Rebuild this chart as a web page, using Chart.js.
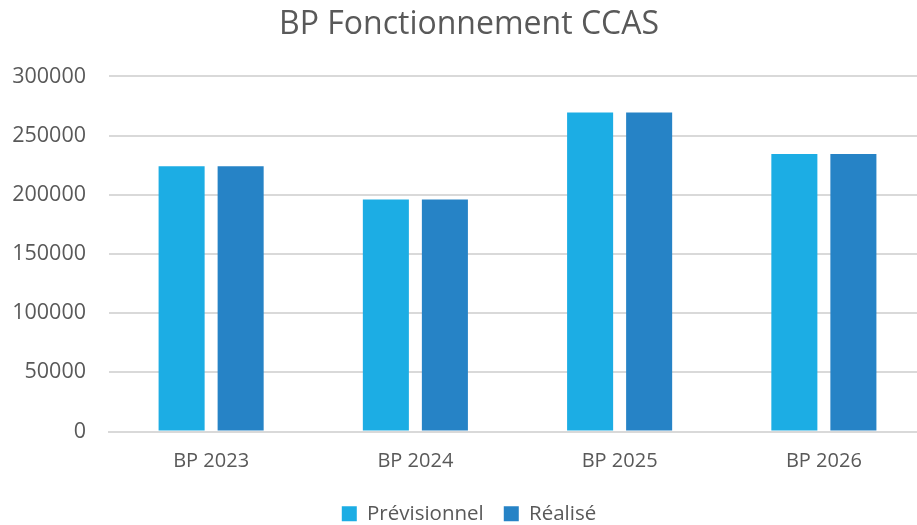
<!DOCTYPE html>
<html>
<head>
<meta charset="utf-8">
<script src="https://cdn.jsdelivr.net/npm/chart.js@4/dist/chart.umd.min.js"></script>
<style>
  html, body { margin: 0; padding: 0; background: #ffffff; overflow: hidden; }
  #wrap { position: relative; width: 946px; height: 534px; }
</style>
</head>
<body>
<div id="wrap"><canvas id="c"></canvas></div>
<script>
const categories = ["BP 2023", "BP 2024", "BP 2025", "BP 2026"];
const previsionnel = [224000, 196000, 269500, 234500];
const realise = [224000, 196000, 269500, 234500];
const seriesNames = ["Prévisionnel", "Réalisé"];
const chartTitle = "BP Fonctionnement CCAS";

const FONT = "'Open Sans', 'Liberation Sans', sans-serif";
const TEXT = "#595959";

new Chart(document.getElementById("c"), {
  type: "bar",
  data: {
    labels: categories,
    datasets: [
      { label: seriesNames[0], data: previsionnel, backgroundColor: "#1CADE4", borderWidth: 0 },
      { label: seriesNames[1], data: realise, backgroundColor: "#2683C6", borderWidth: 0 }
    ]
  },
  options: {
    responsive: true,
    maintainAspectRatio: false,
    animation: false,
    layout: { padding: { left: 12, right: 20, top: 2, bottom: 0 } },
    datasets: { bar: { categoryPercentage: 0.578, barPercentage: 0.78 } },
    plugins: {
      title: {
        display: true,
        text: chartTitle,
        color: TEXT,
        font: { family: FONT, size: 32, weight: "normal" },
        padding: { top: 4, bottom: 32 }
      },
      legend: {
        display: true,
        position: "bottom",
        labels: {
          color: TEXT,
          font: { family: FONT, size: 20.5 },
          boxWidth: 15,
          boxHeight: 15,
          padding: 20
        }
      },
      tooltip: { enabled: false }
    },
    scales: {
      x: {
        grid: { display: false, drawTicks: false },
        border: { display: true, color: "#D9D9D9", width: 2 },
        ticks: { color: TEXT, font: { family: FONT, size: 20 }, padding: 18 },
        afterFit: function (scale) { scale.height -= 8; }
      },
      y: {
        min: 0,
        max: 300000,
        grid: { color: "#D9D9D9", lineWidth: 2, drawTicks: false },
        border: { display: false },
        ticks: {
          stepSize: 50000,
          color: TEXT,
          font: { family: FONT, size: 21.5 },
          padding: 23,
          callback: function (v) { return String(v); }
        },
        afterFit: function (scale) { scale.width = 97; }
      }
    }
  }
});
</script>
</body>
</html>
